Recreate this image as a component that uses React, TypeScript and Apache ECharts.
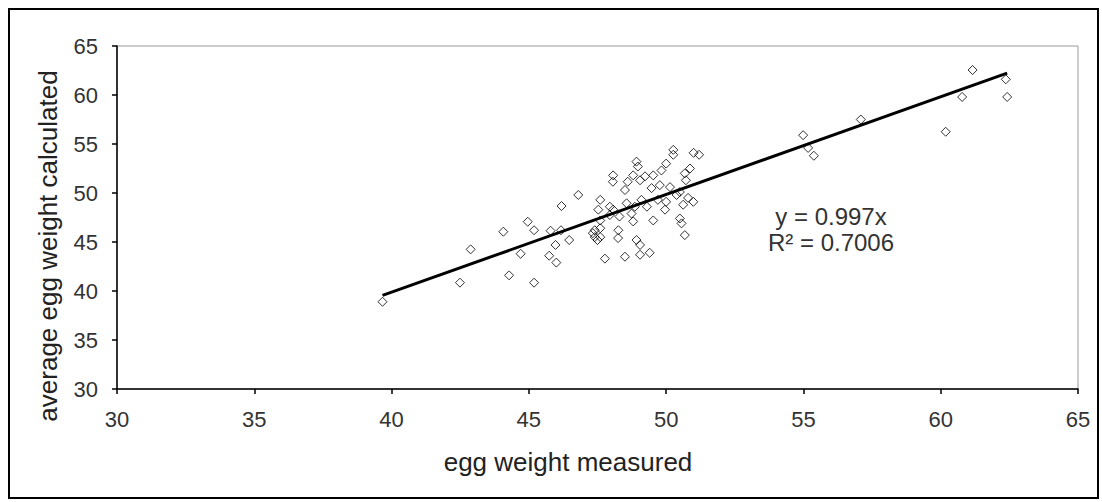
import React, { useEffect, useRef } from "react";
import * as echarts from "echarts";

const measured = [
  39.67, 42.49, 42.88, 44.07, 44.28, 44.7, 44.96, 45.19, 45.19, 45.74,
  46.0, 45.79, 45.97, 46.17, 46.47, 46.19, 46.8, 47.33, 47.4, 47.5,
  47.6, 47.77, 47.6, 47.6, 47.95, 48.07, 48.06, 48.5, 48.26, 48.25,
  48.5, 48.92, 48.97, 49.05, 49.23, 49.53, 49.83, 50.0, 50.26, 50.26,
  51.0, 51.2, 50.68, 50.87, 50.72, 50.5, 50.99, 50.5, 50.56, 50.68,
  48.92, 49.05, 49.4, 49.05, 49.53, 49.96, 50.0, 49.7, 48.8, 48.74,
  48.86, 48.56, 48.3, 48.07, 49.1, 49.3, 47.6, 47.53, 47.4, 49.47,
  49.77, 50.14, 50.38, 50.62, 50.8, 47.95, 48.6, 48.8, 54.99, 55.17,
  55.38, 57.09, 60.18, 60.78, 61.16, 62.37, 62.42,
];
const calculated = [
  38.9, 40.85, 44.25, 46.05, 41.6, 43.8, 47.07, 46.2, 40.85, 43.6,
  42.9, 46.15, 44.7, 46.2, 45.2, 48.67, 49.8, 45.9, 46.2, 45.2,
  45.5, 43.3, 49.3, 47.2, 48.6, 51.8, 51.15, 50.3, 46.2, 45.4,
  43.5, 53.2, 52.7, 51.3, 51.7, 51.8, 52.3, 53.0, 54.4, 53.9,
  54.1, 53.9, 52.0, 52.5, 51.3, 50.1, 49.1, 47.4, 46.9, 45.7,
  45.2, 44.7, 43.9, 43.7, 47.2, 48.3, 49.1, 49.3, 47.1, 47.9,
  48.6, 48.95, 47.6, 48.3, 49.3, 48.6, 46.4, 48.3, 45.5, 50.5,
  50.8, 50.6, 49.8, 48.8, 49.5, 47.75, 51.15, 51.8, 55.9, 54.6,
  53.8, 57.5, 56.25, 59.8, 62.55, 61.6, 59.8,
];
const slope = 0.997;
const equationLabel = "y = 0.997x";
const rSquaredLabel = "R\u00B2 = 0.7006";
const xTitle = "egg weight measured";
const yTitle = "average egg weight calculated";
const axisMin = 30;
const axisMax = 65;
const axisStep = 5;

const FONT = "'Liberation Sans', Arial, sans-serif";

export default function App() {
  const ref = useRef<HTMLDivElement>(null);
  useEffect(() => {
    if (!ref.current) return;
    const chart = echarts.init(ref.current, undefined, { renderer: "svg" });
    const points = measured.map((m, i) => [m, calculated[i]]);
    const minX = Math.min(...measured);
    const maxX = Math.max(...measured);
    const trend = [
      [minX, slope * minX],
      [maxX, slope * maxX],
    ];
    const axisCommon = {
      type: "value" as const,
      min: axisMin,
      max: axisMax,
      interval: axisStep,
      splitLine: { show: false },
      axisLine: { show: true, lineStyle: { color: "#000", width: 1.5 } },
      axisTick: { show: true, inside: false, length: 5, lineStyle: { color: "#000", width: 1.5 } },
    };
    chart.setOption({
      animation: false,
      backgroundColor: "#fff",
      grid: {
        left: 117,
        right: 24,
        top: 46,
        bottom: 113,
        show: true,
        borderColor: "#999",
        borderWidth: 1,
        backgroundColor: "#fff",
      },
      xAxis: {
        ...axisCommon,
        axisLabel: { fontSize: 22, color: "#333", margin: 19, fontFamily: FONT },
      },
      yAxis: {
        ...axisCommon,
        axisLabel: { fontSize: 22, color: "#333", margin: 19, fontFamily: FONT },
      },
      series: [
        {
          type: "scatter",
          data: points,
          symbol: "diamond",
          symbolSize: 9,
          itemStyle: { color: "rgba(255,255,255,0)", borderColor: "#000", borderWidth: 1 },
          z: 2,
        },
        {
          type: "line",
          data: trend,
          symbol: "none",
          lineStyle: { color: "#000", width: 3 },
          z: 3,
        },
      ],
      graphic: [
        {
          type: "rect",
          shape: { x: 9, y: 9, width: 1089, height: 489 },
          style: { fill: "none", stroke: "#000", lineWidth: 2 },
          silent: true,
        },
        {
          type: "text",
          x: 831,
          y: 216,
          style: { text: equationLabel, font: `24px ${FONT}`, fill: "#333", align: "center", verticalAlign: "middle" },
        },
        {
          type: "text",
          x: 831,
          y: 242,
          style: { text: rSquaredLabel, font: `24px ${FONT}`, fill: "#333", align: "center", verticalAlign: "middle" },
        },
        {
          type: "text",
          x: 568,
          y: 462,
          style: { text: xTitle, font: `26px ${FONT}`, fill: "#222", align: "center", verticalAlign: "middle" },
        },
        {
          type: "text",
          x: 48,
          y: 246,
          rotation: Math.PI / 2,
          style: { text: yTitle, font: `26px ${FONT}`, fill: "#222", align: "center", verticalAlign: "middle" },
        },
      ],
    });
    return () => chart.dispose();
  }, []);
  return (
    <div
      ref={ref}
      style={{ position: "absolute", left: 0, top: 0, width: 1102, height: 502, background: "#fff" }}
    />
  );
}
